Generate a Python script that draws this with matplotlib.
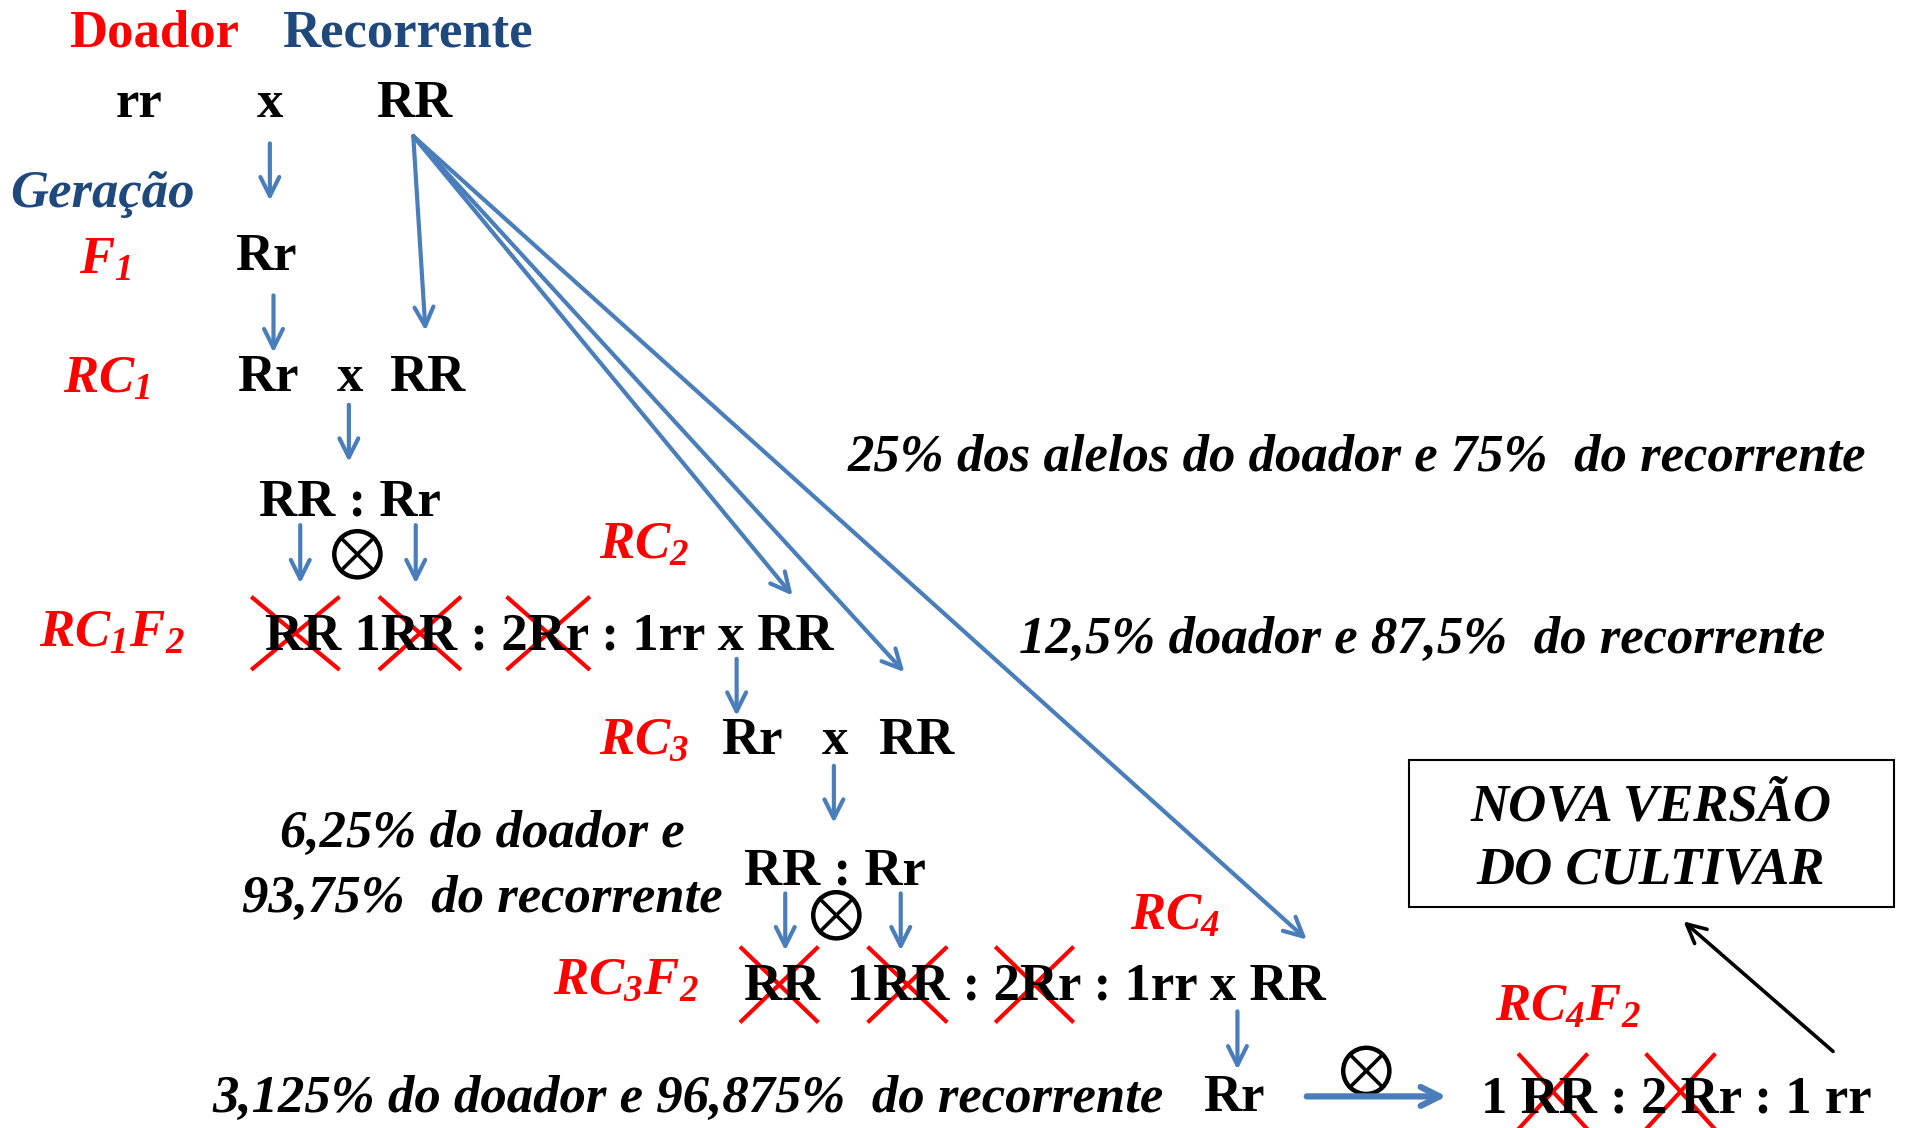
import matplotlib.pyplot as plt
from matplotlib.patches import Rectangle, Circle

plt.rcParams['font.family'] = ['Liberation Serif', 'DejaVu Sans']
plt.rcParams['mathtext.fontset'] = 'custom'
plt.rcParams['mathtext.rm'] = 'Liberation Serif:italic:bold'
plt.rcParams['mathtext.it'] = 'Liberation Serif:italic:bold'

RED = '#FF0000'
NAVY = '#1F497D'
BLUE = '#4A7EBB'
FS = 38

# genotype text: (x, baseline y, text)
genotypes = [
    (95, 96, 'rr'), (211, 96, 'x'), (309, 96, 'RR'),
    (193, 222, 'Rr'),
    (195, 322, 'Rr'), (277, 322, 'x'), (320, 322, 'RR'),
    (213, 424, 'RR : Rr'),
    (218, 534, 'RR 1RR : 2Rr : 1rr x RR'),
    (593, 620, 'Rr'), (676, 620, 'x'), (722, 620, 'RR'),
    (612, 728, 'RR : Rr'),
    (612, 822, 'RR  1RR : 2Rr : 1rr x RR'),
    (990, 914, 'Rr'),
    (1218, 915, '1 RR : 2 Rr : 1 rr'),
]

# generation labels (red, italic)
generations = [
    (65, 225, r'F$_1$'),
    (52, 323, r'RC$_1$'),
    (493, 460, r'RC$_2$'),
    (32, 532, r'RC$_1$F$_2$'),
    (493, 620, r'RC$_3$'),
    (930, 765, r'RC$_4$'),
    (455, 818, r'RC$_3$F$_2$'),
    (1230, 840, r'RC$_4$F$_2$'),
]

# percentage notes (x, baseline, text, ha)
notes = [
    (697, 387, '25% dos alelos do doador e 75%  do recorrente', 'left'),
    (838, 537, '12,5% doador e 87,5%  do recorrente', 'left'),
    (397, 697, '6,25% do doador e', 'center'),
    (397, 750, '93,75%  do recorrente', 'center'),
    (175, 915, '3,125% do doador e 96,875%  do recorrente', 'left'),
]

# short vertical arrows (x, y0, y1)
drops = [(222, 118, 165), (225, 243, 290), (287, 333, 380), (247, 432, 480),
         (342, 432, 480), (606, 542, 589), (686, 630, 677), (646, 735, 782),
         (741, 735, 782), (1018, 832, 880)]

# arrows from the recurrent parent RR
origin = (340, 112)
targets = [(350, 272), (652, 490), (744, 553), (1075, 773)]

# selfing symbols (circle with a cross)
selfs = [(294, 456), (688, 753), (1124, 881)]
R_SELF = 19

# red crosses (x0, y0, x1, y1)
crosses = [(208, 492, 278, 550), (313, 492, 378, 550), (418, 492, 484, 550),
           (610, 780, 672, 840), (715, 780, 778, 840), (820, 780, 882, 840),
           (1250, 868, 1305, 928), (1355, 868, 1410, 928)]

fig = plt.figure(figsize=(19.06, 11.28), dpi=100)
fig.set_facecolor('white')
ax = fig.add_axes([0, 0, 1, 1])
ax.set_xlim(0, 1568)
ax.set_ylim(928, 0)
ax.axis('off')

ax.text(57, 38, 'Doador', color=RED, fontsize=FS, fontweight='bold', va='baseline')
ax.text(232, 38, 'Recorrente', color=NAVY, fontsize=FS, fontweight='bold', va='baseline')
ax.text(8, 170, 'Geração', color=NAVY, fontsize=FS, fontweight='bold', style='italic', va='baseline')

for x, y, t in genotypes:
    ax.text(x, y, t, fontsize=FS, fontweight='bold', va='baseline')
for x, y, t in generations:
    ax.text(x, y, t, color=RED, fontsize=FS, fontweight='bold', style='italic', va='baseline')
for x, y, t, ha in notes:
    ax.text(x, y, t, fontsize=FS, fontweight='bold', style='italic', va='baseline', ha=ha)

arrow = dict(arrowstyle='->', color=BLUE, lw=3, mutation_scale=34, shrinkA=0, shrinkB=0)
for x, y0, y1 in drops:
    ax.annotate('', xy=(x, y1), xytext=(x, y0), arrowprops=arrow)
for tx, ty in targets:
    ax.annotate('', xy=(tx, ty), xytext=origin, arrowprops=arrow)
ax.annotate('', xy=(1190, 902), xytext=(1075, 902),
            arrowprops=dict(arrow, lw=4.5))
ax.annotate('', xy=(1385, 758), xytext=(1508, 865),
            arrowprops=dict(arrowstyle='->', color='black', lw=2.6, mutation_scale=34,
                            shrinkA=0, shrinkB=0))

d = R_SELF * 0.7071
for x, y in selfs:
    ax.add_patch(Circle((x, y), R_SELF, fill=False, edgecolor='black', lw=3.2))
    ax.plot([x - d, x + d], [y - d, y + d], color='black', lw=2.6)
    ax.plot([x - d, x + d], [y + d, y - d], color='black', lw=2.6)

for x0, y0, x1, y1 in crosses:
    ax.plot([x0, x1], [y0, y1], color=RED, lw=3)
    ax.plot([x0, x1], [y1, y0], color=RED, lw=3)

ax.add_patch(Rectangle((1159, 625), 399, 121, fill=False, edgecolor='black', lw=1.5))
ax.text(1358, 675, 'NOVA VERSÃO', fontsize=FS, fontweight='bold', style='italic',
        ha='center', va='baseline')
ax.text(1358, 727, 'DO CULTIVAR', fontsize=FS, fontweight='bold', style='italic',
        ha='center', va='baseline')

fig.savefig('out.png', dpi=100)
